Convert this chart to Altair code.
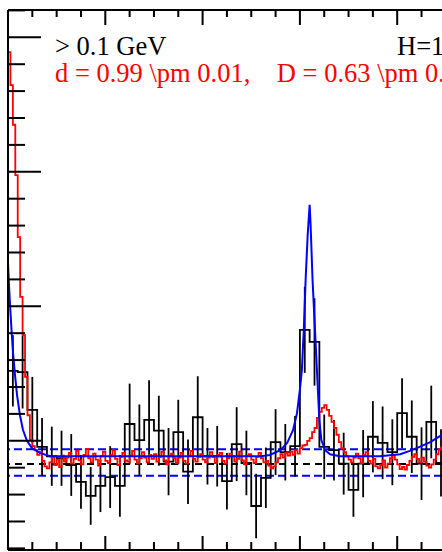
import altair as alt
import pandas as pd

# ---------------- data ----------------
# x: 0.1-wide bins starting at 0 ; y: counts
HIST_BIN_WIDTH = 0.1
HIST_COUNTS = [30.4, 30.2, 24.6, 19.1, 17.7, 17.4, 16.4, 13.9, 11.8, 13.3,
               14.6, 13.3, 22.5, 20.1, 23.1, 21.5, 16.9, 21.3, 15.4, 23.5,
               17.7, 17.7, 14.0, 19.5, 16.7, 10.3, 14.5, 19.8, 18.3, 19.2,
               36.5, 34.7, 19.1, 18.6, 16.6, 12.7, 16.6, 20.6, 19.7, 18.3,
               24.1, 20.6, 16.6, 22.8, 16.7]
HIST_ERRORS = [5.3, 5.4, 4.9, 4.3, 4.4, 4.1, 4.6, 4.0, 4.3, 3.9,
               4.6, 4.6, 6.0, 5.3, 5.9, 5.2, 5.0, 4.8, 4.8, 6.1,
               4.2, 4.5, 4.2, 5.5, 4.8, 4.8, 4.5, 4.9, 4.2, 4.5,
               6.4, 6.5, 4.8, 4.5, 4.6, 4.0, 5.0, 5.3, 5.4, 4.9,
               5.2, 5.4, 5.4, 5.4, 5.0]

# red: fine 0.025-wide bins starting at 0
RED_BIN_WIDTH = 0.025
RED_VALUES = [77.8, 72.9, 67.0, 59.5, 50.3, 41.4, 35.7, 29.5, 23.8, 20.1, 19.2,
              18.6, 17.9, 18.3, 17.0, 16.2, 15.9, 16.8, 17.6, 16.4, 17.2,
              16.1, 17.8, 16.9, 17.5, 18.2, 16.6, 17.3, 18.5, 17.1, 16.5,
              17.9, 18.8, 17.4, 16.8, 18.1, 17.2, 16.3, 17.7, 18.4, 17.0,
              16.7, 17.9, 18.6, 17.3, 16.4, 17.6, 18.2, 17.1, 16.9, 17.8,
              18.5, 17.2, 16.6, 17.4, 18.3, 17.5, 16.8, 17.9, 17.3, 18.0,
              16.9, 17.6, 18.4, 17.1, 16.5, 17.7, 18.1, 17.4, 16.7, 17.5,
              18.2, 17.0, 16.6, 17.8, 18.5, 17.3, 16.9, 17.6, 18.0, 17.2,
              16.8, 17.5, 18.3, 17.6, 16.7, 17.9, 18.2, 17.0, 16.6, 17.4,
              18.1, 17.7, 16.9, 17.3, 18.4, 17.1, 16.5, 17.8, 18.0, 17.2,
              16.7, 17.6, 18.2, 17.4, 16.8, 17.0, 16.3, 15.9, 16.2, 16.8,
              17.4, 18.0, 17.5, 18.2, 17.8, 18.4, 17.9, 18.6, 18.1, 18.9, 19.3,
              19.4, 20.0, 20.4, 21.3, 21.9, 23.4, 24.3, 24.9, 25.3, 24.6,
              23.7, 22.8, 21.9, 20.9, 19.8, 18.9, 18.3, 17.7,
              17.2, 16.8, 17.5, 18.1, 17.4, 16.7, 17.9, 18.3, 17.0, 16.6, 17.3,
              16.2, 15.9, 16.4, 17.1, 16.0, 16.6, 17.4, 17.9, 17.2, 16.5,
              15.8, 16.1, 15.7, 16.4, 17.0, 17.6, 18.0, 17.3, 16.8, 17.5,
              16.9, 16.3, 16.0, 16.5, 17.2, 18.0, 18.7, 19.0]

# blue fit curve
BLUE_X = [0.0, 0.010, 0.021, 0.036, 0.051, 0.072, 0.093, 0.123, 0.154, 0.195,
          0.247, 0.329, 0.432, 1.0, 2.0, 2.6, 2.69, 2.80, 2.87, 2.93, 2.97,
          3.00, 3.02, 3.04, 3.06, 3.08, 3.10, 3.11, 3.13, 3.16, 3.18, 3.20,
          3.22, 3.26, 3.31, 3.41, 3.82, 4.03, 4.13, 4.23, 4.34, 4.46]
BLUE_Y = [46.4, 43.2, 40.2, 36.5, 33.2, 29.8, 26.8, 23.8, 21.6, 20.0,
          18.9, 18.2, 17.7, 17.7, 17.7, 17.7, 17.9, 18.6, 19.7, 21.6, 24.1,
          27.6, 30.5, 36.5, 44.4, 50.6, 55.1, 52.1, 43.9, 35.0, 29.0, 23.1,
          20.1, 18.6, 18.0, 17.7, 17.7, 18.0, 18.5, 19.1, 19.8, 20.9]

BLUE_DASHED = [18.74, 14.81]
BLACK_DASHED = [16.55]

X_DOMAIN = [0.0, 4.4604]
Y_DOMAIN = [3.76, 84.06]
X_MAJOR = [1, 2, 3, 4]
X_MINOR = [0.25, 0.5, 0.75, 1.25, 1.5, 1.75, 2.25, 2.5, 2.75,
           3.25, 3.5, 3.75, 4.25]
Y_MAJOR = [20, 40, 60, 80]
Y_MINOR = [4, 8, 12, 16, 24, 28, 32, 36, 44, 48, 52, 56, 64, 68, 72, 76, 84]

LABELS = ["> 0.1 GeV",
          "d = 0.99 \\pm 0.01,\u00a0\u00a0\u00a0\u00a0D = 0.63 \\pm 0.02",
          "H=1"]

# ---------------- build tables ----------------
n = len(HIST_COUNTS)
hist_step = pd.DataFrame({
    "x": [i * HIST_BIN_WIDTH for i in range(n)] + [n * HIST_BIN_WIDTH],
    "y": HIST_COUNTS + [HIST_COUNTS[-1]],
})
hist_err = pd.DataFrame({
    "x": [(i + 0.5) * HIST_BIN_WIDTH for i in range(n)],
    "lo": [c - e for c, e in zip(HIST_COUNTS, HIST_ERRORS)],
    "hi": [c + e for c, e in zip(HIST_COUNTS, HIST_ERRORS)],
})
m = len(RED_VALUES)
red = pd.DataFrame({
    "x": [i * RED_BIN_WIDTH for i in range(m)] + [m * RED_BIN_WIDTH],
    "y": RED_VALUES + [RED_VALUES[-1]],
})
blue = pd.DataFrame({"x": BLUE_X, "y": BLUE_Y})

xs = alt.Scale(domain=X_DOMAIN, nice=False, zero=False)
ys = alt.Scale(domain=Y_DOMAIN, nice=False, zero=False)
X = lambda f: alt.X(f, type="quantitative", scale=xs, axis=None)
Y = lambda f: alt.Y(f, type="quantitative", scale=ys, axis=None)

hist_line = alt.Chart(hist_step).mark_line(
    interpolate="step-after", color="black", strokeWidth=1.8, clip=True
).encode(x=X("x"), y=Y("y"))

hist_bars = alt.Chart(hist_err).mark_rule(
    color="black", strokeWidth=1.8, clip=True
).encode(x=X("x"), y=Y("lo"), y2="hi")

dash_blue = alt.Chart(pd.DataFrame({"v": BLUE_DASHED})).mark_rule(
    color="#0000ff", strokeWidth=2, strokeDash=[8, 4]
).encode(y=Y("v"))

dash_black = alt.Chart(pd.DataFrame({"v": BLACK_DASHED})).mark_rule(
    color="black", strokeWidth=2, strokeDash=[7, 5]
).encode(y=Y("v"))

red_line = alt.Chart(red).mark_line(
    interpolate="step-after", color="#ff0000", strokeWidth=1.8, clip=True
).encode(x=X("x"), y=Y("y"))

blue_line = alt.Chart(blue).mark_line(
    color="#0000ff", strokeWidth=2, clip=True
).encode(x=X("x"), y=Y("y"))

# frame
frame_left = alt.Chart(pd.DataFrame({"v": [X_DOMAIN[0]]})).mark_rule(
    color="black", strokeWidth=2).encode(x=X("v"))
frame_tb = alt.Chart(pd.DataFrame({"v": Y_DOMAIN})).mark_rule(
    color="black", strokeWidth=2).encode(y=Y("v"))

# ticks (inside the frame)
ytick_minor = alt.Chart(pd.DataFrame({"v": Y_MINOR})).mark_rule(
    color="black", strokeWidth=2).encode(y=Y("v"), x=alt.value(0), x2=alt.value(17))
ytick_major = alt.Chart(pd.DataFrame({"v": Y_MAJOR})).mark_rule(
    color="black", strokeWidth=2).encode(y=Y("v"), x=alt.value(0), x2=alt.value(33))
xtop_minor = alt.Chart(pd.DataFrame({"v": X_MINOR})).mark_rule(
    color="black", strokeWidth=2).encode(x=X("v"), y=alt.value(0), y2=alt.value(7))
xtop_major = alt.Chart(pd.DataFrame({"v": X_MAJOR})).mark_rule(
    color="black", strokeWidth=2).encode(x=X("v"), y=alt.value(0), y2=alt.value(15))
xbot_minor = alt.Chart(pd.DataFrame({"v": X_MINOR})).mark_rule(
    color="black", strokeWidth=2).encode(x=X("v"), y=alt.value(540), y2=alt.value(532))
xbot_major = alt.Chart(pd.DataFrame({"v": X_MAJOR})).mark_rule(
    color="black", strokeWidth=2).encode(x=X("v"), y=alt.value(540), y2=alt.value(526))

def label(i, x, y, color):
    return alt.Chart(pd.DataFrame({"t": [LABELS[i]]})).mark_text(
        font="Liberation Serif", fontSize=26.5, color=color,
        align="left", baseline="alphabetic"
    ).encode(text="t:N", x=alt.value(x), y=alt.value(y))

t1 = label(0, 47, 45, "black")
t2 = label(1, 47, 72, "#ff0000")
t3 = label(2, 389, 45, "black")

chart = alt.layer(
    dash_black, dash_blue, hist_line, hist_bars, red_line, blue_line,
    frame_left, frame_tb, ytick_minor, ytick_major,
    xtop_minor, xtop_major, xbot_minor, xbot_major,
    t1, t2, t3,
).properties(
    width=434, height=540,
    autosize=alt.AutoSizeParams(type="none"),
    padding={"left": 8, "top": 10, "right": 0, "bottom": 2},
    background="white",
).configure_view(stroke=None)

chart.save("out.html", embed_options={"renderer": "svg", "actions": False})
